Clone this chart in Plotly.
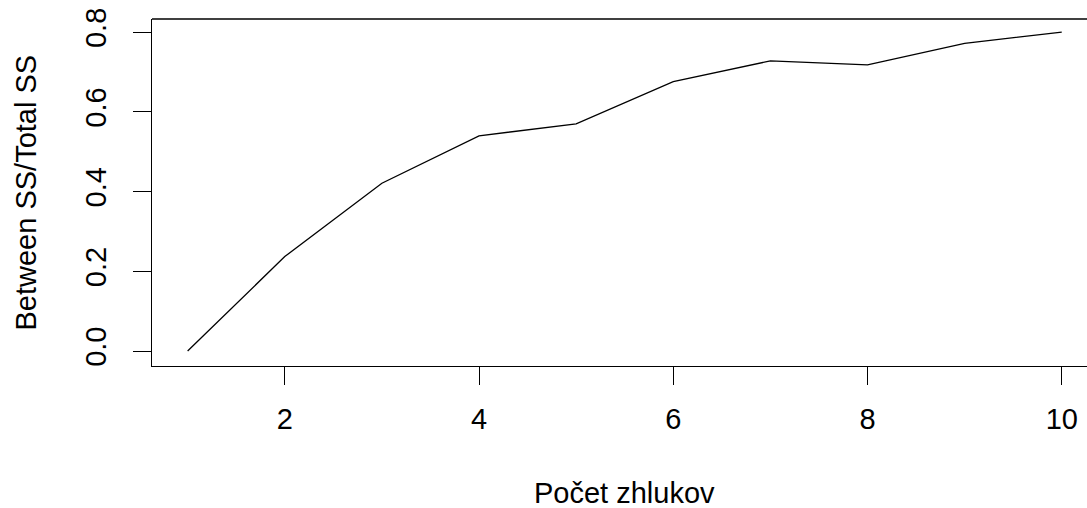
import plotly.graph_objects as go

# Number of clusters vs. explained share of variance (elbow curve)
clusters = [1, 2, 3, 4, 5, 6, 7, 8, 9, 10]
ratio = [0.0, 0.237, 0.421, 0.540, 0.570, 0.676, 0.728, 0.718, 0.772, 0.800]

x_ticks = [2, 4, 6, 8, 10]
y_ticks = [0.0, 0.2, 0.4, 0.6, 0.8]
y_tick_text = ["0.0", "0.2", "0.4", "0.6", "0.8"]

x_title = "Počet zhlukov"
y_title = "Between SS/Total SS"

FONT = "Liberation Sans, Arial, sans-serif"
FS = 29

fig = go.Figure()
fig.add_trace(go.Scatter(
    x=clusters, y=ratio, mode="lines",
    line=dict(color="black", width=1.3),
    hoverinfo="skip", showlegend=False,
))

axis_common = dict(
    showgrid=False, zeroline=False,
    showline=True, linecolor="black", linewidth=1.3,
    ticks="outside", ticklen=18, tickwidth=1.3, tickcolor="black",
    tickfont=dict(family=FONT, size=FS, color="black"),
)

fig.update_xaxes(
    range=[0.633, 10.26], tickmode="array", tickvals=x_ticks,
    ticktext=[str(v) for v in x_ticks], ticklabelstandoff=9,
    **axis_common,
)
fig.update_yaxes(
    range=[-0.0376, 0.8331], tickmode="array", tickvals=y_ticks,
    ticktext=y_tick_text, tickangle=-90, ticklabelstandoff=15,
    **axis_common,
)

# top edge of the frame
fig.add_shape(type="line", xref="paper", yref="paper",
              x0=0, x1=1, y0=1, y1=1,
              line=dict(color="black", width=1.3))

# axis titles
fig.add_annotation(text=x_title, xref="x", yref="paper",
                   x=5.5, y=0, yanchor="middle", yshift=-127,
                   showarrow=False,
                   font=dict(family=FONT, size=FS, color="black"))
fig.add_annotation(text=y_title, xref="paper", yref="paper",
                   x=0, y=0.5, xanchor="center", yanchor="middle",
                   xshift=-127, textangle=-90, showarrow=False,
                   font=dict(family=FONT, size=FS, color="black"))

fig.update_layout(
    width=1087, height=508,
    margin=dict(l=152, r=0, t=19, b=142, pad=0),
    paper_bgcolor="white", plot_bgcolor="white",
)

fig.write_html("out.html", config={"displayModeBar": False})
